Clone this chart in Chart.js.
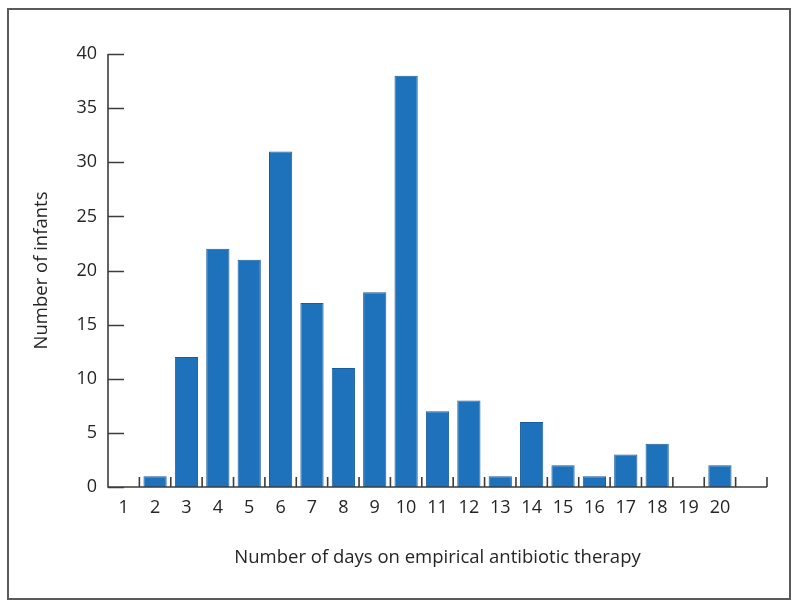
<!DOCTYPE html>
<html>
<head>
<meta charset="utf-8">
<script src="https://cdn.jsdelivr.net/npm/chart.js@4/dist/chart.umd.min.js"></script>
<style>
  html, body { margin: 0; padding: 0; background: #ffffff; }
  #wrap { position: relative; width: 799px; height: 608px; }
</style>
</head>
<body>
<div id="wrap"><canvas id="c" width="799" height="608"></canvas></div>
<script>
// Categories: days on empirical antibiotic therapy (last slot is an empty spacer on the axis)
const dayLabels = ["1","2","3","4","5","6","7","8","9","10","11","12","13","14","15","16","17","18","19","20",""];
// Number of infants per day count
const infantCounts = [0, 1, 12, 22, 21, 31, 17, 11, 18, 38, 7, 8, 1, 6, 2, 1, 3, 4, 0, 2, 0];
// Y axis tick settings
const yMin = 0, yMax = 40, yStep = 5;

const FONT = "'Open Sans', 'Noto Sans', sans-serif";
const TEXT = "#252525";
const AXIS = "#3c3c3c";

const innerTicks = {
  id: 'innerTicks',
  beforeDraw(chart) {
    const ctx = chart.ctx;
    ctx.save();
    ctx.fillStyle = '#ffffff';
    ctx.fillRect(0, 0, chart.width, chart.height);
    ctx.strokeStyle = '#5a5a5a';
    ctx.lineWidth = 2;
    ctx.strokeRect(8, 9, 782, 590);
    ctx.restore();
  },
  afterDraw(chart) {
    const ctx = chart.ctx;
    const x = chart.scales.x, y = chart.scales.y;
    ctx.save();
    ctx.strokeStyle = AXIS;
    ctx.lineWidth = 1.6;
    ctx.beginPath();
    // axis lines
    ctx.moveTo(x.left, y.top);
    ctx.lineTo(x.left, y.bottom);
    ctx.lineTo(x.right, y.bottom);
    // y ticks pointing inward
    y.ticks.forEach(t => {
      const py = Math.round(y.getPixelForValue(t.value)) + 0.5;
      ctx.moveTo(x.left, py);
      ctx.lineTo(x.left + 16, py);
    });
    // x ticks at category boundaries pointing upward
    for (let i = 1; i <= dayLabels.length; i++) {
      const px = x.getPixelForValue(i - 0.5);
      ctx.moveTo(px, y.bottom);
      ctx.lineTo(px, y.bottom - 10);
    }
    ctx.stroke();
    ctx.restore();
  }
};

new Chart(document.getElementById('c'), {
  type: 'bar',
  data: {
    labels: dayLabels,
    datasets: [{
      data: infantCounts,
      backgroundColor: '#1e71bb',
      borderColor: '#1a5c99',
      borderWidth: 1,
      barPercentage: 0.74,
      categoryPercentage: 1.0
    }]
  },
  options: {
    responsive: false,
    animation: false,
    devicePixelRatio: 1,
    layout: { padding: { top: 54, right: 32, left: 0, bottom: 0 } },
    plugins: { legend: { display: false }, tooltip: { enabled: false } },
    scales: {
      x: {
        grid: { display: false, drawTicks: false },
        border: { display: false },
        ticks: { color: TEXT, font: { family: FONT, size: 18 }, padding: 10, maxRotation: 0, autoSkip: false },
        title: { display: true, text: 'Number of days on empirical antibiotic therapy', color: TEXT,
                 font: { family: FONT, size: 18.5 }, padding: { top: 0, bottom: 39 } },
        afterFit(s) { s.height = 121; }
      },
      y: {
        min: yMin, max: yMax,
        grid: { display: false, drawTicks: false },
        border: { display: false },
        ticks: { stepSize: yStep, color: TEXT, font: { family: FONT, size: 18 }, padding: 11 },
        title: { display: true, text: 'Number of infants', color: TEXT,
                 font: { family: FONT, size: 18.5 }, padding: { top: 31, bottom: 0 } },
        afterFit(s) { s.width = 108; }
      }
    }
  },
  plugins: [innerTicks]
});
</script>
</body>
</html>
